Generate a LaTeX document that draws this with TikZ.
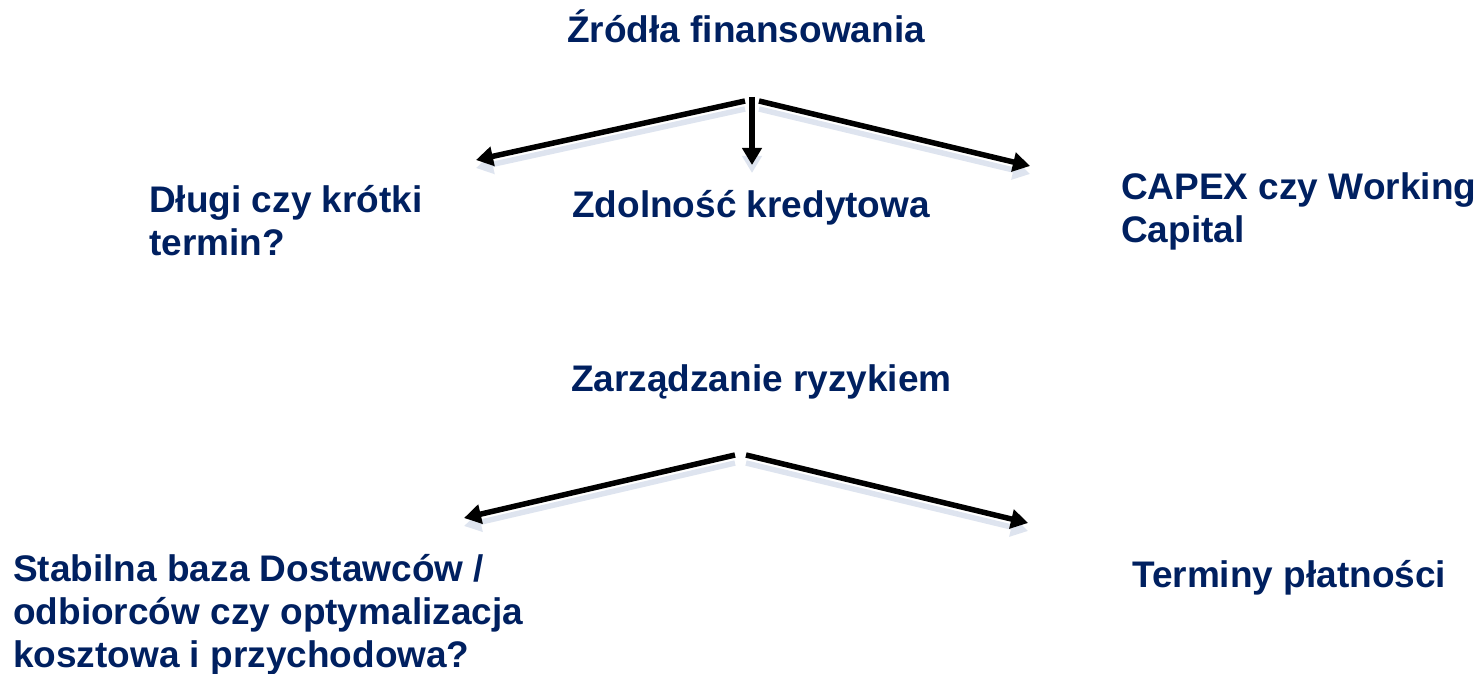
\documentclass[tikz,border=0pt]{standalone}
\usepackage{fontspec}
\setmainfont{Liberation Sans}
\usetikzlibrary{arrows.meta}
\definecolor{navy}{RGB}{0,32,96}
\definecolor{shadowblue}{RGB}{222,228,239}
\tikzset{label/.style={anchor=base west,inner sep=0pt,align=left,text=navy,font={\fontsize{37}{43}\selectfont\bfseries}},
  line/.style={line width=5.5pt,-{Triangle[length=17pt,width=19pt]}},
  shadowline/.style={line,draw=shadowblue,transform canvas={yshift=-8pt}}}

\begin{document}
\begin{tikzpicture}[x=1pt,y=-1pt]
\useasboundingbox (0,0) rectangle (1484,674);
\node[label] (zrodla) at (567,43) {Źródła finansowania};
\node[label] (dlugi) at (149,255) {Długi czy krótki\\termin?};
\node[label] (zdolnosc) at (572,217) {Zdolność kredytowa};
\node[label] (capex) at (1121,242) {CAPEX czy Working\\Capital};
\node[label] (ryzyko) at (571,391) {Zarządzanie ryzykiem};
\node[label] (stabilna) at (13,667) {Stabilna baza Dostawców /\\odbiorców czy optymalizacja\\kosztowa i przychodowa?};
\node[label] (terminy) at (1132,587) {Terminy płatności};
% arrow ends
\coordinate (top1) at (745,101);
\coordinate (top2) at (752,97);
\coordinate (top3) at (759,101);
\coordinate (toleft) at (476,160);
\coordinate (todown) at (752,165);
\coordinate (toright) at (1030,166);
\coordinate (low1) at (735,455);
\coordinate (low2) at (746,455);
\coordinate (lowleft) at (464,518);
\coordinate (lowright) at (1028,523);
% shadows first
\draw[shadowline] (top1) -- (toleft);
\draw[shadowline] (top2) -- (todown);
\draw[shadowline] (top3) -- (toright);
\draw[shadowline] (low1) -- (lowleft);
\draw[shadowline] (low2) -- (lowright);
\draw[line] (top1) -- (toleft);
\draw[line] (top2) -- (todown);
\draw[line] (top3) -- (toright);
\draw[line] (low1) -- (lowleft);
\draw[line] (low2) -- (lowright);
\end{tikzpicture}
\end{document}
